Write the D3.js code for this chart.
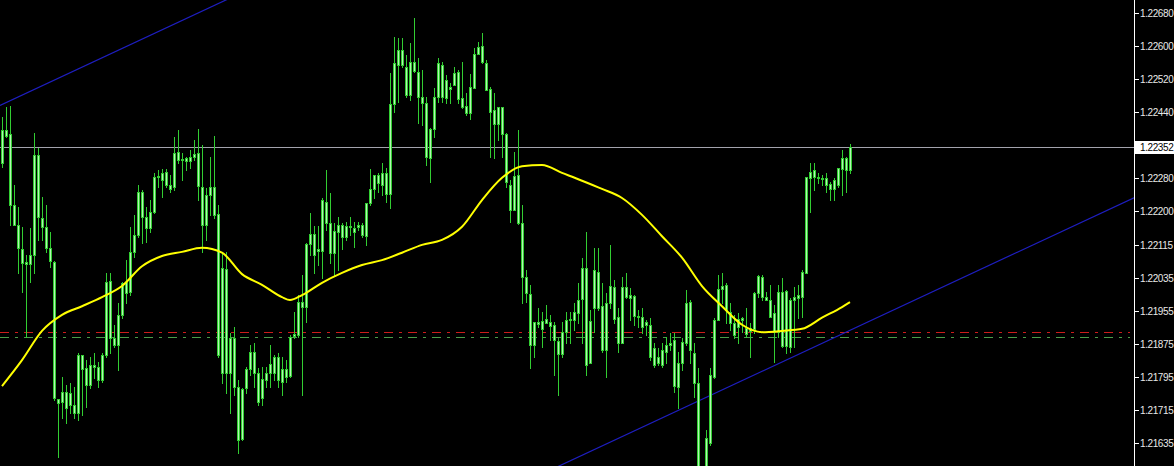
<!DOCTYPE html>
<html>
<head>
<meta charset="utf-8">
<script src="https://cdn.jsdelivr.net/npm/d3@7"></script>
<style>
  html, body { margin: 0; padding: 0; background: #000; }
  svg { display: block; }
</style>
</head>
<body>
<svg id="chart" width="1174" height="466"></svg>
<script>
// EURUSD-style candle chart (MT4 look).

const openPrices = [
  1.22313, 1.22393, 1.22383, 1.22211, 1.22163, 1.22104, 1.22072, 1.22067, 1.22090, 1.22333,
  1.22180, 1.22158, 1.22107, 1.22072, 1.21739, 1.21732, 1.21756, 1.21725, 1.21725, 1.21706,
  1.21847, 1.21815, 1.21774, 1.21822, 1.21817, 1.21786, 1.21847, 1.22027, 1.21888, 1.21871,
  1.21944, 1.21997, 1.21999, 1.22097, 1.22138, 1.22242, 1.22182, 1.22156, 1.22194, 1.22279,
  1.22272, 1.22291, 1.22260, 1.22255, 1.22340, 1.22320, 1.22318, 1.22318, 1.22328, 1.22338,
  1.22255, 1.22163, 1.22235, 1.22255, 1.22189, 1.21803, 1.22055, 1.21803, 1.21888, 1.21769,
  1.21642, 1.21767, 1.21812, 1.21854, 1.21803, 1.21742, 1.21786, 1.21803, 1.21842, 1.21786,
  1.21812, 1.21793, 1.21795, 1.21892, 1.21895, 1.21975, 1.21963, 1.22116, 1.22140, 1.22100,
  1.22100, 1.22218, 1.22168, 1.22095, 1.22145, 1.22163, 1.22133, 1.22160, 1.22156, 1.22158,
  1.22163, 1.22135, 1.22216, 1.22250, 1.22284, 1.22260, 1.22289, 1.22237, 1.22456, 1.22551,
  1.22588, 1.22546, 1.22478, 1.22558, 1.22534, 1.22473, 1.22459, 1.22326, 1.22396, 1.22473,
  1.22551, 1.22471, 1.22498, 1.22503, 1.22534, 1.22471, 1.22451, 1.22435, 1.22496, 1.22578,
  1.22597, 1.22556, 1.22493, 1.22442, 1.22408, 1.22449, 1.22383, 1.22260, 1.22199, 1.22284,
  1.22168, 1.22036, 1.21994, 1.21871, 1.21927, 1.21910, 1.21934, 1.21927, 1.21920, 1.21881,
  1.21849, 1.21902, 1.21932, 1.21932, 1.21949, 1.21982, 1.22058, 1.21827, 1.21961, 1.22048,
  1.21965, 1.21859, 1.21973, 1.22012, 1.21939, 1.21876, 1.22012, 1.21985, 1.21990, 1.21941,
  1.21939, 1.21920, 1.21920, 1.21822, 1.21842, 1.21822, 1.21854, 1.21871, 1.21883, 1.21769,
  1.21827, 1.21876, 1.21975, 1.21852, 1.21779, 1.21555, 1.21531, 1.21633, 1.21793, 1.21932,
  1.22007, 1.22017, 1.21951, 1.21925, 1.21915, 1.21932, 1.21913, 1.21905, 1.21910, 1.21997,
  1.22036, 1.21987, 1.21980, 1.21949, 1.21902, 1.21999, 1.21868, 1.21980, 1.21980, 1.21985,
  1.21987, 1.22046, 1.22277, 1.22296, 1.22279, 1.22277, 1.22277, 1.22262, 1.22250, 1.22260,
  1.22298, 1.22326, 1.22296
];

const highPrices = [
  1.22425, 1.22449, 1.22451, 1.22260, 1.22206, 1.22158, 1.22090, 1.22156, 1.22386, 1.22350,
  1.22230, 1.22211, 1.22145, 1.22075, 1.21739, 1.21793, 1.21774, 1.21779, 1.21769, 1.21852,
  1.21847, 1.21834, 1.21842, 1.21852, 1.21829, 1.21852, 1.22046, 1.22046, 1.21920, 1.21973,
  1.22024, 1.22077, 1.22158, 1.22187, 1.22260, 1.22247, 1.22206, 1.22223, 1.22289, 1.22296,
  1.22298, 1.22298, 1.22284, 1.22376, 1.22393, 1.22338, 1.22328, 1.22345, 1.22369, 1.22396,
  1.22357, 1.22253, 1.22328, 1.22378, 1.22211, 1.22097, 1.22097, 1.21900, 1.21915, 1.21786,
  1.21767, 1.21817, 1.21871, 1.21876, 1.21815, 1.21817, 1.21817, 1.21871, 1.21847, 1.21852,
  1.21842, 1.21834, 1.21895, 1.21951, 1.21992, 1.22041, 1.22119, 1.22192, 1.22160, 1.22160,
  1.22228, 1.22296, 1.22240, 1.22168, 1.22182, 1.22168, 1.22170, 1.22182, 1.22170, 1.22170,
  1.22168, 1.22216, 1.22298, 1.22284, 1.22289, 1.22313, 1.22301, 1.22532, 1.22619, 1.22617,
  1.22617, 1.22576, 1.22605, 1.22666, 1.22569, 1.22539, 1.22473, 1.22399, 1.22496, 1.22569,
  1.22558, 1.22527, 1.22508, 1.22546, 1.22539, 1.22558, 1.22483, 1.22529, 1.22593, 1.22607,
  1.22629, 1.22563, 1.22498, 1.22483, 1.22449, 1.22449, 1.22386, 1.22272, 1.22340, 1.22393,
  1.22211, 1.22053, 1.22017, 1.21927, 1.21961, 1.21951, 1.21968, 1.21944, 1.21927, 1.21888,
  1.21927, 1.21951, 1.21951, 1.21973, 1.22022, 1.22083, 1.22145, 1.21956, 1.22107, 1.22107,
  1.22022, 1.21997, 1.22114, 1.22029, 1.21961, 1.22036, 1.22046, 1.22010, 1.21992, 1.21956,
  1.21961, 1.21932, 1.21937, 1.21876, 1.21864, 1.21876, 1.21890, 1.21900, 1.21900, 1.21854,
  1.21888, 1.22004, 1.21980, 1.21876, 1.21815, 1.21567, 1.21664, 1.21815, 1.21937, 1.22041,
  1.22046, 1.22022, 1.21973, 1.21944, 1.21949, 1.21939, 1.21961, 1.21925, 1.21999, 1.22041,
  1.22041, 1.21999, 1.22017, 1.21968, 1.22017, 1.22034, 1.22004, 1.21985, 1.22012, 1.22017,
  1.22053, 1.22279, 1.22313, 1.22313, 1.22289, 1.22284, 1.22289, 1.22267, 1.22277, 1.22301,
  1.22345, 1.22328, 1.22359
];

const lowPrices = [
  1.22303, 1.22376, 1.22163, 1.22163, 1.22046, 1.21999, 1.21890, 1.22024, 1.22046, 1.22126,
  1.22126, 1.22097, 1.22060, 1.21737, 1.21599, 1.21694, 1.21681, 1.21706, 1.21694, 1.21688,
  1.21701, 1.21720, 1.21767, 1.21791, 1.21769, 1.21781, 1.21842, 1.21852, 1.21866, 1.21810,
  1.21937, 1.21973, 1.21992, 1.22085, 1.22133, 1.22119, 1.22121, 1.22145, 1.22192, 1.22255,
  1.22230, 1.22255, 1.22242, 1.22247, 1.22313, 1.22272, 1.22296, 1.22301, 1.22320, 1.22223,
  1.22097, 1.22126, 1.22187, 1.22180, 1.21842, 1.21779, 1.21754, 1.21706, 1.21749, 1.21609,
  1.21640, 1.21754, 1.21798, 1.21769, 1.21725, 1.21725, 1.21769, 1.21769, 1.21786, 1.21769,
  1.21749, 1.21781, 1.21793, 1.21888, 1.21890, 1.21749, 1.21927, 1.22090, 1.22046, 1.22065,
  1.22034, 1.22150, 1.22070, 1.22041, 1.22053, 1.22104, 1.22126, 1.22138, 1.22109, 1.22150,
  1.22133, 1.22114, 1.22211, 1.22228, 1.22242, 1.22235, 1.22218, 1.22204, 1.22437, 1.22461,
  1.22546, 1.22473, 1.22466, 1.22534, 1.22411, 1.22406, 1.22308, 1.22267, 1.22376, 1.22461,
  1.22461, 1.22459, 1.22459, 1.22503, 1.22459, 1.22447, 1.22430, 1.22420, 1.22496, 1.22581,
  1.22556, 1.22490, 1.22328, 1.22326, 1.22369, 1.22328, 1.22255, 1.22170, 1.22199, 1.22165,
  1.21973, 1.21975, 1.21815, 1.21842, 1.21915, 1.21866, 1.21925, 1.21883, 1.21798, 1.21749,
  1.21842, 1.21876, 1.21876, 1.21907, 1.21925, 1.21876, 1.21798, 1.21827, 1.21902, 1.21956,
  1.21854, 1.21793, 1.21961, 1.21925, 1.21854, 1.21876, 1.21985, 1.21932, 1.21920, 1.21915,
  1.21900, 1.21895, 1.21834, 1.21817, 1.21822, 1.21817, 1.21827, 1.21859, 1.21756, 1.21718,
  1.21810, 1.21871, 1.21827, 1.21744, 1.21518, 1.21494, 1.21518, 1.21628, 1.21791, 1.21932,
  1.21973, 1.21925, 1.21907, 1.21888, 1.21876, 1.21902, 1.21890, 1.21842, 1.21900, 1.21987,
  1.21980, 1.21980, 1.21939, 1.21829, 1.21890, 1.21866, 1.21852, 1.21854, 1.21866, 1.21937,
  1.21939, 1.22046, 1.22194, 1.22247, 1.22265, 1.22260, 1.22242, 1.22223, 1.22223, 1.22255,
  1.22235, 1.22242, 1.22289
];

const closePrices = [
  1.22393, 1.22378, 1.22211, 1.22163, 1.22107, 1.22070, 1.22067, 1.22090, 1.22333, 1.22182,
  1.22158, 1.22107, 1.22075, 1.21742, 1.21730, 1.21756, 1.21718, 1.21754, 1.21706, 1.21847,
  1.21812, 1.21774, 1.21822, 1.21817, 1.21786, 1.21847, 1.22024, 1.21888, 1.21871, 1.21944,
  1.22022, 1.22024, 1.22097, 1.22138, 1.22242, 1.22182, 1.22156, 1.22194, 1.22279, 1.22281,
  1.22289, 1.22260, 1.22250, 1.22338, 1.22320, 1.22323, 1.22326, 1.22328, 1.22335, 1.22257,
  1.22163, 1.22235, 1.22255, 1.22187, 1.21847, 1.22058, 1.21803, 1.21888, 1.21769, 1.21640,
  1.21764, 1.21812, 1.21854, 1.21803, 1.21732, 1.21788, 1.21803, 1.21824, 1.21803, 1.21842,
  1.21781, 1.21812, 1.21890, 1.21897, 1.21975, 1.21963, 1.22116, 1.22140, 1.22090, 1.22104,
  1.22223, 1.22168, 1.22095, 1.22148, 1.22163, 1.22133, 1.22160, 1.22158, 1.22145, 1.22163,
  1.22138, 1.22216, 1.22250, 1.22284, 1.22265, 1.22289, 1.22237, 1.22456, 1.22556, 1.22588,
  1.22551, 1.22478, 1.22558, 1.22537, 1.22473, 1.22459, 1.22328, 1.22396, 1.22473, 1.22556,
  1.22473, 1.22515, 1.22493, 1.22532, 1.22468, 1.22449, 1.22435, 1.22498, 1.22578, 1.22595,
  1.22558, 1.22490, 1.22437, 1.22408, 1.22449, 1.22383, 1.22267, 1.22199, 1.22281, 1.22168,
  1.22036, 1.21997, 1.21871, 1.21927, 1.21922, 1.21930, 1.21925, 1.21917, 1.21883, 1.21849,
  1.21902, 1.21932, 1.21934, 1.21951, 1.21980, 1.22058, 1.21822, 1.21930, 1.22053, 1.21961,
  1.21859, 1.21973, 1.22014, 1.21934, 1.21876, 1.22012, 1.21987, 1.21992, 1.21941, 1.21939,
  1.21915, 1.21927, 1.21842, 1.21864, 1.21827, 1.21859, 1.21871, 1.21876, 1.21771, 1.21827,
  1.21878, 1.21973, 1.21859, 1.21779, 1.21543, 1.21506, 1.21645, 1.21798, 1.21932, 1.22007,
  1.22014, 1.21956, 1.21925, 1.21895, 1.21934, 1.21937, 1.21897, 1.21913, 1.21997, 1.22038,
  1.21987, 1.21980, 1.21939, 1.21902, 1.21999, 1.21868, 1.22002, 1.21866, 1.21987, 1.21992,
  1.22048, 1.22279, 1.22291, 1.22279, 1.22277, 1.22274, 1.22260, 1.22250, 1.22272, 1.22301,
  1.22326, 1.22296, 1.22352
];

// moving average, read at every 5th bar
const maIndex = [
  0, 5, 10, 15, 20, 25, 30, 35, 40, 45, 50, 55, 60, 65, 70, 72, 75, 80, 85, 90,
  95, 100, 105, 110, 115, 120, 125, 130, 135, 140, 145, 150, 155, 160, 165, 170,
  175, 180, 185, 190, 195, 200, 205, 210, 212
];
const maValues = [
  1.21771, 1.21834, 1.21905, 1.21944, 1.21965, 1.21987, 1.22014, 1.22062, 1.22087, 1.22097,
  1.22107, 1.22095, 1.22043, 1.22017, 1.21987, 1.21980, 1.21992, 1.22022, 1.22046, 1.22065,
  1.22077, 1.22095, 1.22114, 1.22126, 1.22158, 1.22223, 1.22277, 1.22305, 1.22308, 1.22289,
  1.22270, 1.22250, 1.22228, 1.22187, 1.22135, 1.22083, 1.22014, 1.21965, 1.21920, 1.21902,
  1.21905, 1.21910, 1.21937, 1.21963, 1.21975
];

// channel anchors: [bar index, price]
const channelUpper = [[0, 1.22455], [50, 1.22682]];
const channelLower = [[140, 1.21580], [280, 1.22215]];

const bidPrice = 1.22352;
const redLevel = 1.21902;
const greenLevel = 1.21890;

const tickLabels = [
  "1.22680", "1.22600", "1.22520", "1.22440", "1.22280", "1.22200", "1.22115",
  "1.22035", "1.21955", "1.21875", "1.21795", "1.21715", "1.21635"
];

const W = 1174, H = 466;
const axisX = 1134;

const svg = d3.select("#chart");
svg.append("rect").attr("width", W).attr("height", H).attr("fill", "#000");

const x = d3.scaleLinear().domain([0, openPrices.length - 1]).range([2, 850]);
const y = d3.scaleLinear().domain([1.21635, 1.22680]).range([442, 12]);

const px = (i) => Math.round(x(i));
const py = (p) => Math.round(y(p));

svg.append("defs").append("clipPath").attr("id", "plot")
  .append("rect").attr("x", 0).attr("y", 0).attr("width", axisX).attr("height", H);

const plot = svg.append("g").attr("clip-path", "url(#plot)");

// bid line
plot.append("line")
  .attr("x1", 0).attr("x2", axisX)
  .attr("y1", py(bidPrice) + 0.5).attr("y2", py(bidPrice) + 0.5)
  .attr("stroke", "#a3a3ad").attr("stroke-width", 1);

// dash-dot levels
[[redLevel, "#cc1c1c"], [greenLevel, "#4a9e4a"]].forEach(([lvl, col]) => {
  plot.append("line")
    .attr("x1", 0).attr("x2", axisX - 4)
    .attr("y1", py(lvl) + 0.5).attr("y2", py(lvl) + 0.5)
    .attr("stroke", col).attr("stroke-width", 1)
    .attr("stroke-dasharray", "9,6,3,6");
});

// channel lines, extended across the plot
function drawChannel(anchors) {
  const [[i0, p0], [i1, p1]] = anchors;
  const slope = (p1 - p0) / (i1 - i0);
  const iL = x.invert(0), iR = x.invert(axisX);
  plot.append("line")
    .attr("x1", x(iL)).attr("y1", y(p0 + slope * (iL - i0)))
    .attr("x2", x(iR)).attr("y2", y(p0 + slope * (iR - i0)))
    .attr("stroke", "#1e1ec0").attr("stroke-width", 1.2);
}
drawChannel(channelUpper);
drawChannel(channelLower);

// candles
const bars = d3.range(openPrices.length).map((i) => ({
  i, o: openPrices[i], h: highPrices[i], l: lowPrices[i], c: closePrices[i]
}));

const gCandles = plot.append("g").attr("shape-rendering", "crispEdges");

gCandles.selectAll("rect.wick").data(bars).enter().append("rect")
  .attr("class", "wick")
  .attr("x", (d) => px(d.i)).attr("width", 1)
  .attr("y", (d) => py(d.h))
  .attr("height", (d) => py(d.l) - py(d.h) + 1)
  .attr("fill", "#32cd32");

gCandles.selectAll("rect.body").data(bars).enter().append("rect")
  .attr("class", "body")
  .attr("x", (d) => px(d.i) - 1).attr("width", 3)
  .attr("y", (d) => py(Math.max(d.o, d.c)))
  .attr("height", (d) => py(Math.min(d.o, d.c)) - py(Math.max(d.o, d.c)) + 1)
  .attr("fill", "#32cd32");

gCandles.selectAll("rect.inner")
  .data(bars.filter((d) => py(Math.min(d.o, d.c)) - py(Math.max(d.o, d.c)) >= 2))
  .enter().append("rect")
  .attr("class", "inner")
  .attr("x", (d) => px(d.i)).attr("width", 1)
  .attr("y", (d) => py(Math.max(d.o, d.c)) + 1)
  .attr("height", (d) => py(Math.min(d.o, d.c)) - py(Math.max(d.o, d.c)) - 1)
  .attr("fill", "#b4f5b4");

// moving average
const maPoints = maIndex.map((i, k) => ({ i, p: maValues[k] }));
plot.append("path")
  .datum(maPoints)
  .attr("d", d3.line().x((d) => x(d.i)).y((d) => y(d.p)).curve(d3.curveMonotoneX))
  .attr("fill", "none")
  .attr("stroke", "#ffff00")
  .attr("stroke-width", 2);

// price axis
svg.append("line")
  .attr("x1", axisX + 0.5).attr("x2", axisX + 0.5)
  .attr("y1", 0).attr("y2", H)
  .attr("stroke", "#ffffff").attr("stroke-width", 1);

const gAxis = svg.append("g");
tickLabels.forEach((t) => {
  const ty = py(+t) + 1;
  gAxis.append("line")
    .attr("x1", axisX + 1).attr("x2", axisX + 5)
    .attr("y1", ty + 0.5).attr("y2", ty + 0.5)
    .attr("stroke", "#ffffff").attr("stroke-width", 1);
  gAxis.append("text")
    .attr("x", axisX + 6).attr("y", ty + 0.5)
    .attr("dy", "0.35em")
    .attr("font-family", "'Liberation Sans', Arial, sans-serif")
    .attr("font-size", 10)
    .attr("letter-spacing", "-0.4px")
    .attr("fill", "#e8e8e8")
    .text(t);
});

// bid price label
const by = py(bidPrice);
svg.append("rect")
  .attr("x", axisX + 1).attr("y", by - 6)
  .attr("width", W - axisX - 1).attr("height", 13)
  .attr("fill", "#ffffff");
svg.append("text")
  .attr("x", axisX + 6).attr("y", by + 0.5)
  .attr("dy", "0.35em")
  .attr("font-family", "'Liberation Sans', Arial, sans-serif")
  .attr("font-size", 10)
  .attr("letter-spacing", "-0.4px")
  .attr("fill", "#000000")
  .text(bidPrice.toFixed(5));
</script>
</body>
</html>
